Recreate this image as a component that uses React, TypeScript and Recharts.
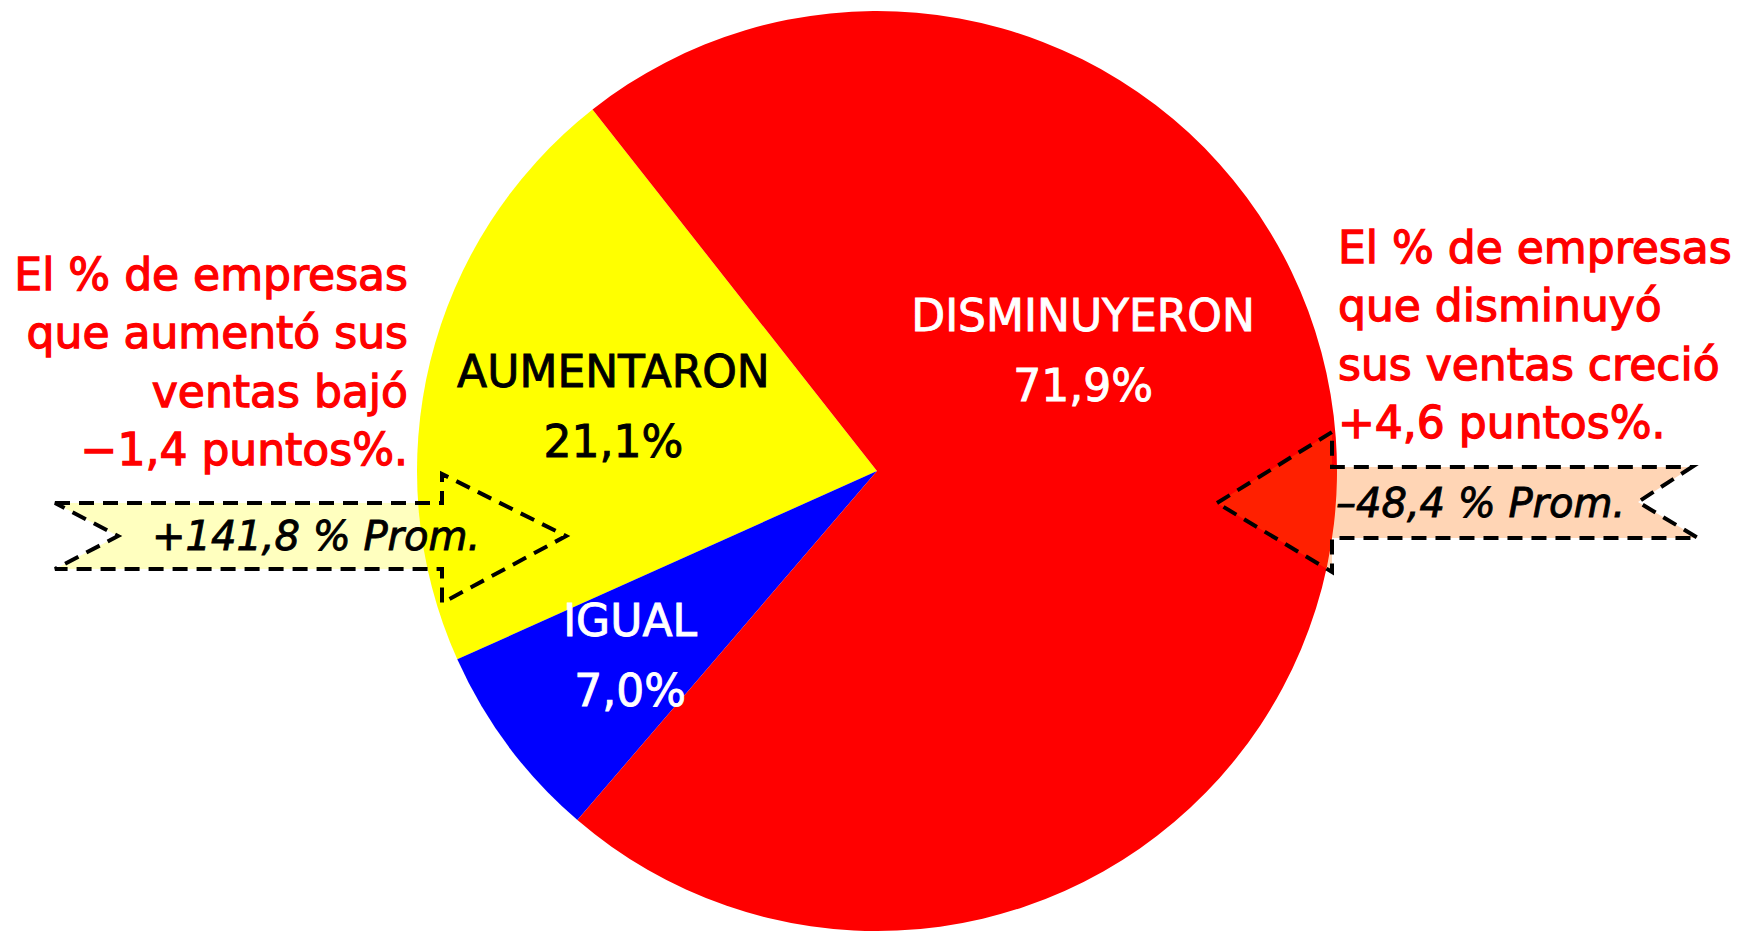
import { PieChart, Pie, Cell } from 'recharts'

const categories = ['AUMENTARON', 'IGUAL', 'DISMINUYERON']
const shares = [21.1, 7.0, 71.9]
const sliceColors = ['#ffff00', '#0000ff', '#ff0000']
const labelColors = ['#000000', '#ffffff', '#ffffff']

const leftNote = ['El % de empresas', 'que aumentó sus', 'ventas bajó', '−1,4 puntos%.']
const rightNote = ['El % de empresas', 'que disminuyó', 'sus ventas creció', '+4,6 puntos%.']
const leftAvg = '+141,8 % Prom.'
const rightAvg = '–48,4 % Prom.'

const data = categories.map((name, i) => ({ name, value: shares[i] }))

const W = 1740
const H = 931
const FONT = '"DejaVu Sans", sans-serif'

// where each label block sits: angle (deg) and fraction of radius
const labelPlace = [
  { angle: null as number | null, r: 0.59 },
  { angle: null as number | null, r: 0.67 },
  { angle: 30.5, r: 0.52 },
]

const fmt = (v: number) => `${v.toFixed(1).replace('.', ',')}%`

function SliceLabel(props: any) {
  const { cx, cy, midAngle, outerRadius, index, name, value } = props
  const p = labelPlace[index]
  const a = ((p.angle ?? midAngle) * Math.PI) / 180
  const x = cx + Math.cos(a) * outerRadius * p.r
  const y = cy - Math.sin(a) * outerRadius * p.r
  const c = labelColors[index]
  return (
    <text x={x} y={y} textAnchor="middle" fill={c} stroke={c} strokeWidth={0.9}
      fontFamily={FONT} fontSize={44}>
      <tspan x={x} dy={-19}>{name}</tspan>
      <tspan x={x} dy={70}>{fmt(value)}</tspan>
    </text>
  )
}

const dash = { stroke: '#000', strokeWidth: 4, strokeDasharray: '15 9', fill: 'none' }

const leftArrow = '55,503 442,503 442,474 566,536 442,603 442,569 55,569 118,536'
const rightArrow = '1217,503 1332,432 1332,467 1692,467 1638,502 1698,538 1332,538 1332,572'

function Notes() {
  return (
    <svg width={W} height={H} style={{ position: 'absolute', left: 0, top: 0, pointerEvents: 'none' }}>
      {/* left arrow pointing right */}
      <polygon points={leftArrow} fill="#ffff00" fillOpacity={0.25} />
      <polygon points={leftArrow} {...dash} />
      {/* right arrow pointing left */}
      <polygon points={rightArrow} fill="#ff6e00" fillOpacity={0.29} />
      <polygon points={rightArrow} {...dash} />

      <text x={152} y={550} fontFamily={FONT} fontSize={40} fontStyle="italic" fill="#000"
        stroke="#000" strokeWidth={0.9}>{leftAvg}</text>
      <text x={1336} y={517} fontFamily={FONT} fontSize={40} fontStyle="italic" fill="#000"
        stroke="#000" strokeWidth={0.9}>{rightAvg}</text>

      <text fontFamily={FONT} fontSize={44} fill="#ff0000" stroke="#ff0000" strokeWidth={1.3} textAnchor="end">
        {leftNote.map((t, i) => (
          <tspan key={i} x={408} y={290 + i * 58.3}>{t}</tspan>
        ))}
      </text>
      <text fontFamily={FONT} fontSize={44} fill="#ff0000" stroke="#ff0000" strokeWidth={1.3} textAnchor="start">
        {rightNote.map((t, i) => (
          <tspan key={i} x={1338} y={263 + i * 58.3}>{t}</tspan>
        ))}
      </text>
    </svg>
  )
}

export default function App() {
  return (
    <div style={{ position: 'absolute', left: 0, top: 0, width: W, height: H, background: '#fff' }}>
      <PieChart width={W} height={H} margin={{ top: 0, right: 0, bottom: 0, left: 0 }}>
        <Pie data={data} dataKey="value" nameKey="name" cx={877} cy={471} outerRadius={460}
          startAngle={128.2} endAngle={488.2} stroke="none" label={SliceLabel} labelLine={false}
          isAnimationActive={false}>
          {data.map((d, i) => <Cell key={d.name} fill={sliceColors[i]} />)}
        </Pie>
      </PieChart>
      <Notes />
    </div>
  )
}
